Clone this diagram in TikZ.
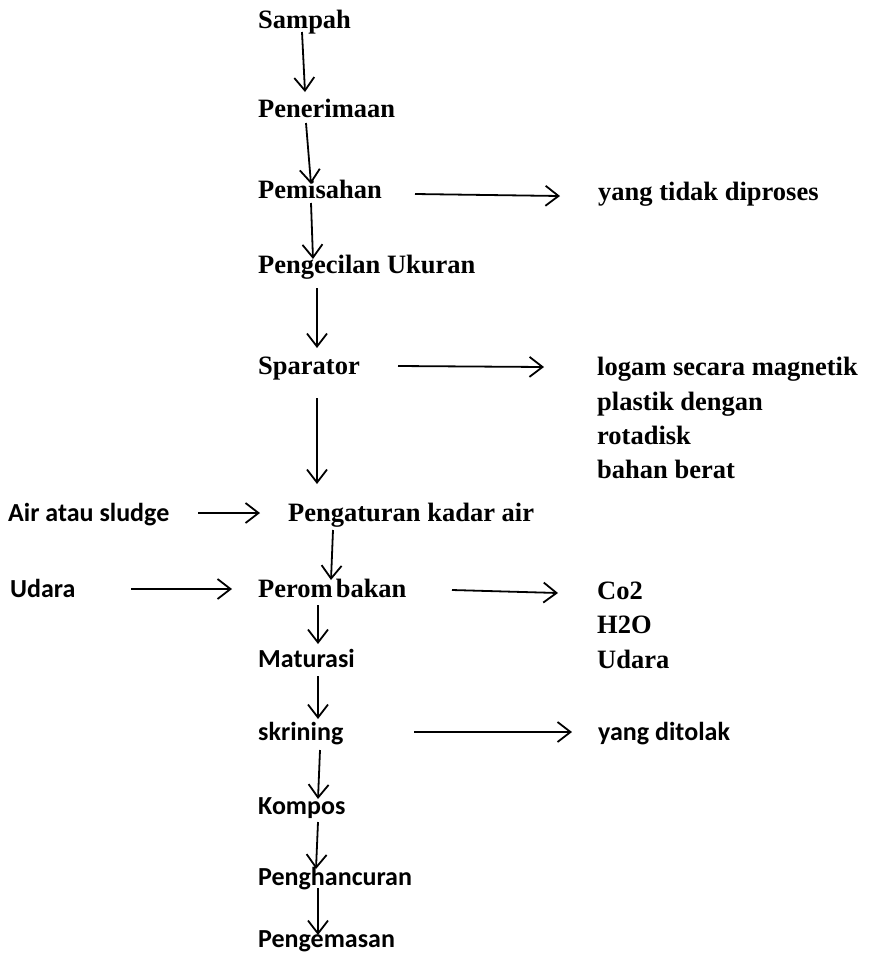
\documentclass[tikz,border=0pt]{standalone}
\usepackage{fontspec}
\setmainfont{Liberation Serif}
\newfontfamily\calib{Carlito}
\usetikzlibrary{arrows.meta}
\begin{document}
\begin{tikzpicture}[x=1pt,y=-1pt,
  serif/.style={anchor=base west,inner sep=0pt,font=\fontsize{26.5}{30}\selectfont\bfseries},
  sans/.style={anchor=base west,inner sep=0pt,font=\calib\fontsize{26}{30}\selectfont\bfseries},
  arr/.style={line width=1.8pt,-{Straight Barb[length=13pt,width=20pt,line width=1.8pt]}}]
\useasboundingbox[fill=white] (0,0) rectangle (882,954);
% main column
\node[serif] (sampah)  at (258,28)  {Sampah};
\node[serif] (pener)   at (258,117) {Penerimaan};
\node[serif] (pemis)   at (258,198) {Pemisahan};
\node[serif] (pengec)  at (258,273) {Pengecilan Ukuran};
\node[serif] (spar)    at (258,374) {Sparator};
\node[serif] (pengat)  at (288,521) {Pengaturan kadar air};
\node[serif] (peromb)  at (258,597) {Perom\kern3pt bakan};
\node[sans]  (matur)   at (258,667) {Maturasi};
\node[sans]  (skrin)   at (258,740) {skrining};
\node[sans]  (kompos)  at (258,814) {Kompos};
\node[sans]  (phanc)   at (258,885) {Penghancuran};
\node[sans]  (pemas)   at (258,947) {Pengemasan};
% inputs on the left
\node[sans]  (air)     at (8,521)   {Air atau sludge};
\node[sans]  (udaraL)  at (10,597)  {Udara};
% outputs on the right
\node[serif] (tidak)   at (598,200) {yang tidak diproses};
\node[serif] (logam)   at (597,375) {logam secara magnetik};
\node[serif] (plastik) at (597,410) {plastik dengan};
\node[serif] (rotad)   at (597,444) {rotadisk};
\node[serif] (berat)   at (597,478) {bahan berat};
\node[serif] (co2)     at (597,599) {Co2};
\node[serif] (h2o)     at (597,633) {H2O};
\node[serif] (udaraR)  at (597,668) {Udara};
\node[sans]  (tolak)   at (598,740) {yang ditolak};
% vertical flow
\draw[arr] ([shift={(44,4)}]sampah.base west) -- ([shift={(47,-25)}]pener.base west);
\draw[arr] ([shift={(48,6)}]pener.base west)  -- ([shift={(53,-14)}]pemis.base west);
\draw[arr] ([shift={(53,5)}]pemis.base west)  -- ([shift={(55,-14)}]pengec.base west);
\draw[arr] ([shift={(59,15)}]pengec.base west) -- ([shift={(59,-26)}]spar.base west);
\draw[arr] ([shift={(59,24)}]spar.base west)  -- ([shift={(29,-37)}]pengat.base west);
\draw[arr] ([shift={(45,9)}]pengat.base west) -- ([shift={(73,-17)}]peromb.base west);
\draw[arr] ([shift={(60,8)}]peromb.base west) -- ([shift={(60,-23)}]matur.base west);
\draw[arr] ([shift={(60,9)}]matur.base west) -- ([shift={(60,-21)}]skrin.base west);
\draw[arr] ([shift={(62,10)}]skrin.base west) -- ([shift={(60,-15)}]kompos.base west);
\draw[arr] ([shift={(60,8)}]kompos.base west) -- ([shift={(58,-16)}]phanc.base west);
\draw[arr] ([shift={(60,3)}]phanc.base west)  -- ([shift={(60,-12)}]pemas.base west);
% side streams
\draw[arr] ([shift={(157,-4)}]pemis.base west) -- ([shift={(-38,-4)}]tidak.base west);
\draw[arr] ([shift={(140,-8)}]spar.base west)  -- ([shift={(-53,-8)}]logam.base west);
\draw[arr] ([shift={(190,-8)}]air.base west)   -- ([shift={(-28,-8)}]pengat.base west);
\draw[arr] ([shift={(121,-8)}]udaraL.base west) -- ([shift={(-26,-8)}]peromb.base west);
\draw[arr] ([shift={(194,-7)}]peromb.base west) -- ([shift={(-39,-6)}]co2.base west);
\draw[arr] ([shift={(156,-8)}]skrin.base west) -- ([shift={(-26,-8)}]tolak.base west);
\end{tikzpicture}
\end{document}
